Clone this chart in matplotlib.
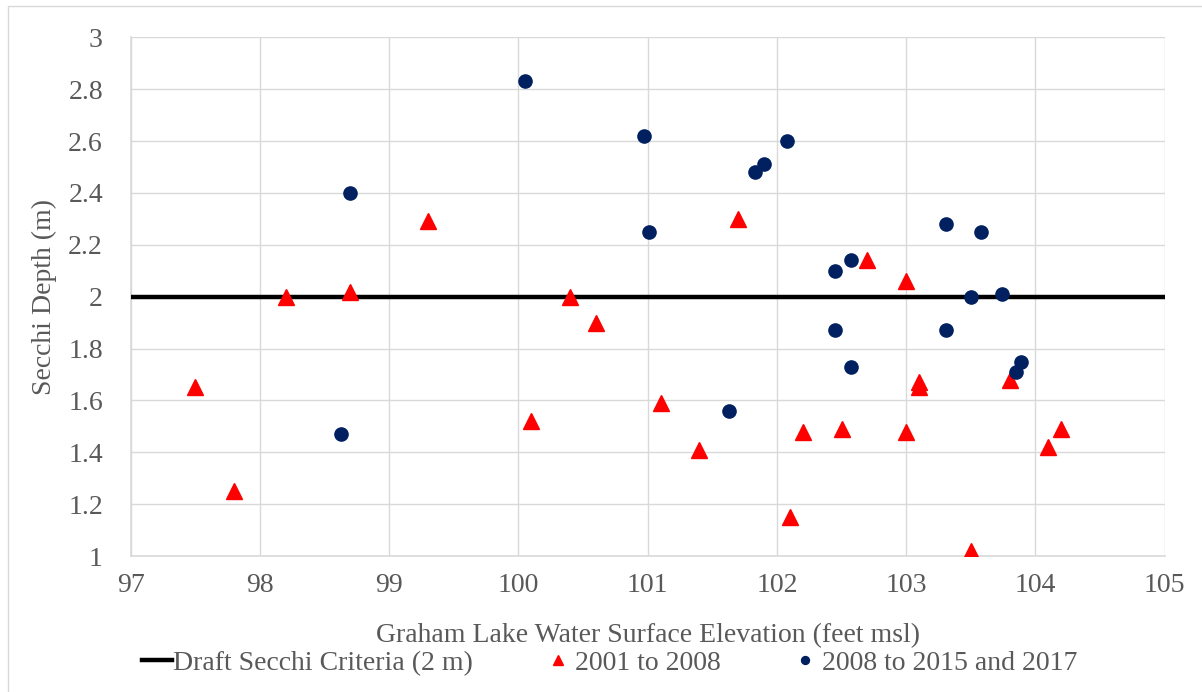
import matplotlib.pyplot as plt
from matplotlib.patches import Rectangle

# Secchi depth vs. Graham Lake elevation
elev_2001_2008 = [97.5, 97.8, 98.2, 98.7, 99.3, 100.1, 100.4, 100.6, 101.1, 101.4, 101.7, 102.1,
                  102.2, 102.5, 102.7, 103.0, 103.0, 103.1, 103.1, 103.5, 103.8, 104.1, 104.2]
depth_2001_2008 = [1.65, 1.25, 2.0, 2.02, 2.29, 1.52, 2.0, 1.90, 1.59, 1.41, 2.30, 1.15,
                   1.48, 1.49, 2.14, 2.06, 1.48, 1.67, 1.65, 1.02, 1.68, 1.42, 1.49]

elev_2008_2017 = [98.63, 98.7, 100.05, 100.97, 101.01, 101.63, 101.83, 101.9, 102.08, 102.45,
                  102.45, 102.57, 102.57, 103.31, 103.31, 103.5, 103.58, 103.74, 103.85, 103.89]
depth_2008_2017 = [1.47, 2.40, 2.83, 2.62, 2.25, 1.56, 2.48, 2.51, 2.60, 2.10,
                   1.87, 2.14, 1.73, 2.28, 1.87, 2.0, 2.25, 2.01, 1.71, 1.75]

criteria_x = [97, 105]
criteria_y = [2, 2]

x_ticks = [97, 98, 99, 100, 101, 102, 103, 104, 105]
y_ticks = [1, 1.2, 1.4, 1.6, 1.8, 2, 2.2, 2.4, 2.6, 2.8, 3]
y_tick_labels = ['1', '1.2', '1.4', '1.6', '1.8', '2', '2.2', '2.4', '2.6', '2.8', '3']

text_color = '#595959'
grid_color = '#d9d9d9'
plt.rcParams['font.family'] = ['Liberation Serif', 'DejaVu Serif']

fig = plt.figure(figsize=(12.02, 6.92), dpi=100)
ax = fig.add_axes([0.1087, 0.1965, 0.8603, 0.7495])

ax.plot(criteria_x, criteria_y, color='black', linewidth=3.2, zorder=3,
        label='Draft Secchi Criteria (2 m)')
ax.plot(elev_2001_2008, depth_2001_2008, linestyle='none', marker='^', markersize=11,
        color='#ff0000', zorder=4, label='2001 to 2008')
ax.plot(elev_2008_2017, depth_2008_2017, linestyle='none', marker='o', markersize=9.5,
        color='#002060', zorder=4, label='2008 to 2015 and 2017')

ax.set_xlim(97, 105)
ax.set_ylim(1, 3)
ax.set_xticks(x_ticks)
ax.set_xticklabels([str(t) for t in x_ticks])
ax.set_yticks(y_ticks)
ax.set_yticklabels(y_tick_labels)
ax.grid(True, color=grid_color, linewidth=1)
ax.set_axisbelow(True)
for side in ['top', 'right']:
    ax.spines[side].set_visible(False)
for side in ['left', 'bottom']:
    ax.spines[side].set_color(grid_color)
    ax.spines[side].set_linewidth(1.2)
ax.tick_params(axis='both', length=0, labelsize=20, colors=text_color)
ax.tick_params(axis='y', pad=20)
ax.tick_params(axis='x', pad=12)

ax.set_xlabel('Graham Lake Water Surface Elevation (feet msl)', fontsize=20,
              color=text_color, labelpad=18)
ax.set_ylabel('Secchi Depth (m)', fontsize=20, color=text_color, labelpad=8)

leg = fig.legend(loc='center', bbox_to_anchor=(0.507, 0.042), ncol=3, frameon=False,
                 fontsize=20, handlelength=1.1, handletextpad=0.05, columnspacing=2.5,
                 markerscale=0.6)
for t in leg.get_texts():
    t.set_color(text_color)

fig.patches.append(Rectangle((8 / 1202, -0.05), 1.2, 1.05 - 6 / 692, transform=fig.transFigure,
                             fill=False, edgecolor=grid_color, linewidth=1))

fig.savefig('out.png', dpi=100)
